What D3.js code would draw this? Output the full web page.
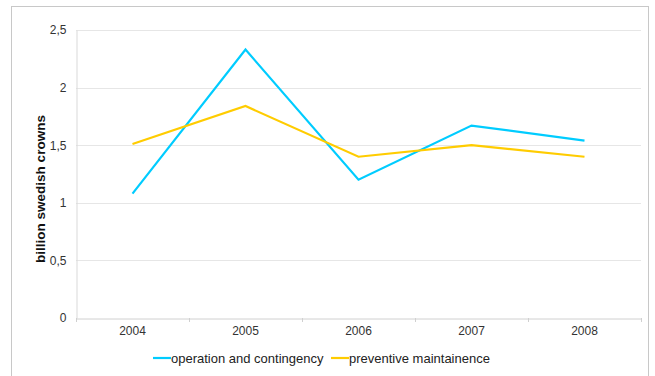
<!DOCTYPE html>
<html><head><meta charset="utf-8">
<script src="https://cdn.jsdelivr.net/npm/d3@7"></script>
<style>body{margin:0;background:#fff}svg{display:block}</style>
</head><body>
<svg id="c" width="655" height="376"></svg>
<script>
const years = ["2004","2005","2006","2007","2008"];
const operation = [1.08, 2.33, 1.20, 1.67, 1.54];
const preventive = [1.51, 1.84, 1.40, 1.50, 1.40];
const yTicks = [0, 0.5, 1, 1.5, 2, 2.5];
const seriesNames = ["operation and contingency", "preventive maintainence"];
const seriesColors = ["#00ccff", "#ffcc00"];

const svg = d3.select("#c");
const font = "Liberation Sans, Arial, sans-serif";
svg.append("rect").attr("x",11.5).attr("y",6.5).attr("width",637).attr("height",380)
  .attr("fill","#fff").attr("stroke","#c8c8c8");

const L=76, R=641, T=30, B=318;
const x = d3.scaleBand().domain(years).range([L,R]);
const y = d3.scaleLinear().domain([0,2.5]).range([B,T]);

// gridlines
svg.append("g").selectAll("line").data(yTicks.filter(d=>d>0)).join("line")
  .attr("x1",L).attr("x2",R).attr("y1",d=>Math.round(y(d))+0.5).attr("y2",d=>Math.round(y(d))+0.5)
  .attr("stroke","#e6e6e6").attr("stroke-width",1);

// y axis
const yAxis = svg.append("g").attr("transform",`translate(${L+0.5},0)`)
  .call(d3.axisLeft(y).tickValues(yTicks).tickSize(0).tickPadding(10)
    .tickFormat(d=>String(d).replace(".",",")));
yAxis.select(".domain").attr("stroke","#d9d9d9");
yAxis.selectAll("text").attr("font-family",font).attr("font-size",12).attr("fill","#333");

// x axis
const xAxis = svg.append("g").attr("transform",`translate(0,${B+0.5})`)
  .call(d3.axisBottom(x).tickSize(0).tickPadding(8));
xAxis.select(".domain").attr("stroke","#d0d0d0");
xAxis.selectAll("text").attr("font-family",font).attr("font-size",12).attr("fill","#333");
// tick marks at band boundaries
svg.append("g").selectAll("line").data(years.concat(["end"])).join("line")
  .attr("x1",(d,i)=>L+i*x.step()+0.5).attr("x2",(d,i)=>L+i*x.step()+0.5)
  .attr("y1",B).attr("y2",B+4).attr("stroke","#d0d0d0");

// y title
svg.append("text").attr("transform",`translate(45,189) rotate(-90)`)
  .attr("text-anchor","middle").attr("font-family",font).attr("font-size",13.5)
  .attr("font-weight","bold").attr("fill","#111").text("billion swedish crowns");

// lines
const line = d3.line().x((d,i)=>x(years[i])+x.bandwidth()/2).y(d=>y(d));
[operation, preventive].forEach((s,k)=>{
  svg.append("path").datum(s).attr("d",line).attr("fill","none")
    .attr("stroke",seriesColors[k]).attr("stroke-width",2.2);
});

// legend
const leg = [{x:153, tx:171}, {x:331, tx:349}];
seriesNames.forEach((n,k)=>{
  svg.append("line").attr("x1",leg[k].x).attr("x2",leg[k].tx).attr("y1",358).attr("y2",358)
    .attr("stroke",seriesColors[k]).attr("stroke-width",2.2);
  svg.append("text").attr("x",leg[k].tx).attr("y",362.5).attr("font-family",font)
    .attr("font-size",13).attr("fill","#222").text(n);
});
</script>
</body></html>
